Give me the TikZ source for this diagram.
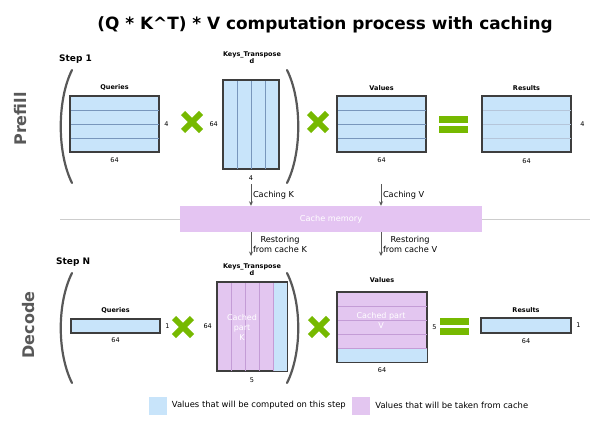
\documentclass[tikz,border=0pt]{standalone}
\usepackage{fontspec}
\setmainfont{DejaVu Sans}
\usetikzlibrary{arrows.meta,positioning,calc}
\definecolor{kvblue}{RGB}{200,228,250}
\definecolor{kvpurple}{RGB}{227,198,240}
\definecolor{kvcache}{RGB}{228,196,242}
\definecolor{kvgreen}{RGB}{118,185,0}
\definecolor{kvgray}{RGB}{88,88,88}
\definecolor{kvline}{RGB}{120,150,188}
\definecolor{kvlinep}{RGB}{196,156,214}
\definecolor{kvrule}{RGB}{205,205,205}
\tikzset{
  mat/.style={draw=kvgray!70!black, line width=1.1pt, fill=#1, anchor=north west,
              inner sep=0pt},
  rowb/.style={draw=#1, line width=0.6pt},
  ttl/.style={font=\fontsize{16.9}{19}\selectfont\bfseries},
  phase/.style={font=\fontsize{16}{18}\selectfont\bfseries, text=kvgray, inner sep=0pt},
  steplbl/.style={font=\fontsize{9}{10}\selectfont\bfseries, inner sep=0pt},
  lbl/.style={font=\fontsize{6.5}{7}\selectfont\bfseries, inner sep=1pt, align=center},
  dim/.style={font=\fontsize{6.5}{7}\selectfont, inner sep=1pt},
  cached/.style={font=\fontsize{8}{10}\selectfont, text=white, align=center},
  flowlbl/.style={font=\fontsize{8.2}{9.8}\selectfont, inner sep=1.5pt, align=center},
  flow/.style={draw=kvgray, line width=1pt, -{Stealth[length=4.5pt,width=4pt]}},
  paren/.style={draw=kvgray, line width=2.2pt, line cap=round},
  cross/.style={draw=kvgreen, line width=6pt},
  cachebox/.style={fill=kvcache, minimum width=302pt, minimum height=26pt,
                   font=\fontsize{8.2}{10}\selectfont, text=white},
  key/.style={fill=#1, minimum size=18pt, inner sep=0pt},
  keytxt/.style={font=\fontsize{8.4}{10}\selectfont, inner sep=0pt},
}

\begin{document}
\begin{tikzpicture}[x=1pt, y=-1pt]
\useasboundingbox (0,0) rectangle (592,423);
% Title
\node[ttl] (title) at (325,25) {(Q * K\textasciicircum T) * V computation process with caching};
% Phase names
\node[phase, rotate=90] (prefill) at (21,119) {Prefill};
\node[phase, rotate=90] (decode) at (29,325) {Decode};
\node[steplbl, anchor=west] (s1) at (59,59) {Step 1};
\node[steplbl, anchor=west] (sn) at (56,262) {Step N};
% Divider and cache memory
\draw[kvrule, line width=1pt] (60,219) -- (590,219);
\node[cachebox] (cache) at (331,219) {Cache memory};

%%% Prefill row
\draw[paren] (72,70) .. controls (57,100) and (57,153) .. (72,183);
\draw[paren] (287,70) .. controls (302,100) and (302,153) .. (287,183);
\node[mat=kvblue, minimum width=88pt, minimum height=55pt] (q1) at (70,96) {};
\node[mat=kvblue, minimum width=55pt, minimum height=88pt] (k1) at (223,80) {};
\node[mat=kvblue, minimum width=88pt, minimum height=55pt] (v1) at (337,96) {};
\node[mat=kvblue, minimum width=88pt, minimum height=55pt] (r1) at (482,96) {};
\foreach \nm/\lc in {q1/kvline, v1/kvline, r1/kvline!55}
  \foreach \i in {1,2,3}
    \draw[rowb=\lc] ($(\nm.north west)!\i/4!(\nm.south west)$) -- ($(\nm.north east)!\i/4!(\nm.south east)$);
\foreach \i in {1,2,3}
  \draw[rowb=kvline] ($(k1.north west)!\i/4!(k1.north east)$) -- ($(k1.south west)!\i/4!(k1.south east)$);
\foreach \nm in {q1,k1,v1,r1}
  \draw[draw=kvgray!70!black, line width=1.1pt] (\nm.north west) rectangle (\nm.south east);
% labels
\node[lbl, above=4pt of q1] (q1t) {Queries};
\node[dim, below=4pt of q1] (q1w) {64};
\node[dim, right=4pt of q1] (q1h) {4};
\node[lbl] (k1t) at (252,58) {Keys\_Transpose\\d};
\node[dim, left=4pt of k1] (k1h) {64};
\node[dim, below=5pt of k1] (k1w) {4};
\node[lbl, above=4pt of v1] (v1t) {Values};
\node[dim, below=4pt of v1] (v1w) {64};
\node[lbl, above=4pt of r1] (r1t) {Results};
\node[dim, below=5pt of r1] (r1w) {64};
\node[dim, right=8pt of r1] (r1h) {4};

%%% Decode row
\draw[paren] (72,273) .. controls (57,303) and (57,353) .. (72,383);
\draw[paren] (287,273) .. controls (302,303) and (302,353) .. (287,383);
\node[mat=kvblue, minimum width=88pt, minimum height=13pt] (q2) at (71,319) {};
\node[mat=kvpurple, minimum width=69pt, minimum height=88pt] (k2) at (217,282) {};
\node[mat=kvpurple, minimum width=89pt, minimum height=69pt] (v2) at (337,292) {};
\node[mat=kvblue, minimum width=89pt, minimum height=14pt] (r2) at (481,318) {};
% fresh column / row of this step
\fill[kvblue] ($(k2.north west)!0.8!(k2.north east)$) rectangle (k2.south east);
\fill[kvblue] ($(v2.north west)!0.8!(v2.south west)$) rectangle (v2.south east);
\foreach \i in {1,...,4} {
  \draw[rowb=kvlinep] ($(k2.north west)!\i/5!(k2.north east)$) -- ($(k2.south west)!\i/5!(k2.south east)$);
  \draw[rowb=kvlinep] ($(v2.north west)!\i/5!(v2.south west)$) -- ($(v2.north east)!\i/5!(v2.south east)$);
}
\foreach \nm in {q2,k2,v2,r2}
  \draw[draw=kvgray!70!black, line width=1.1pt] (\nm.north west) rectangle (\nm.south east);
\node[cached] (k2c) at (242,327) {Cached\\part\\K};
\node[cached] (v2c) at (381,320) {Cached part\\V};
% labels
\node[lbl, above=4pt of q2] (q2t) {Queries};
\node[dim, below=3pt of q2] (q2w) {64};
\node[dim, right=4pt of q2] (q2h) {1};
\node[lbl] (k2t) at (252,270) {Keys\_Transpose\\d};
\node[dim, left=4pt of k2] (k2h) {64};
\node[dim, below=5pt of k2] (k2w) {5};
\node[lbl, above=8pt of v2] (v2t) {Values};
\node[dim, right=4pt of v2] (v2h) {5};
\node[dim, below=4pt of v2] (v2w) {64};
\node[lbl, above=4pt of r2] (r2t) {Results};
\node[dim, below=4pt of r2] (r2w) {64};
\node[dim, right=4pt of r2] (r2h) {1};

% Multiply and equals signs
\foreach \cx/\cy in {192/122, 318/122, 183/327, 319/327}
  \draw[cross] (\cx-9,\cy-9) -- (\cx+9,\cy+9) (\cx-9,\cy+9) -- (\cx+9,\cy-9);
\foreach \ex/\ey in {439/116, 440/318} {
  \fill[kvgreen] (\ex,\ey) rectangle ++(29,6.5);
  \fill[kvgreen] (\ex,\ey+10) rectangle ++(29,6.5);
}

% Cache traffic
\coordinate (ck) at (251,184);
\coordinate (cv) at (381,184);
\coordinate (rk) at (251,256);
\coordinate (rv) at (381,256);
\draw[flow] (ck) -- (ck |- cache.north) node[midway, right, flowlbl] {Caching K};
\draw[flow] (cv) -- (cv |- cache.north) node[midway, right, flowlbl] {Caching V};
\draw[flow] (cache.south -| rk) -- (rk) node[midway, right, flowlbl] {Restoring\\from cache K};
\draw[flow] (cache.south -| rv) -- (rv) node[midway, right, flowlbl] {Restoring\\from cache V};

% Legend
\node[key=kvblue] (kb) at (157.5,405.5) {};
\node[keytxt, right=5pt of kb] (kbt) {Values that will be computed on this step};
\node[key=kvpurple] (kp) at (361,405.5) {};
\node[keytxt, right=5pt of kp] (kpt) {Values that will be taken from cache};
\end{tikzpicture}
\end{document}
